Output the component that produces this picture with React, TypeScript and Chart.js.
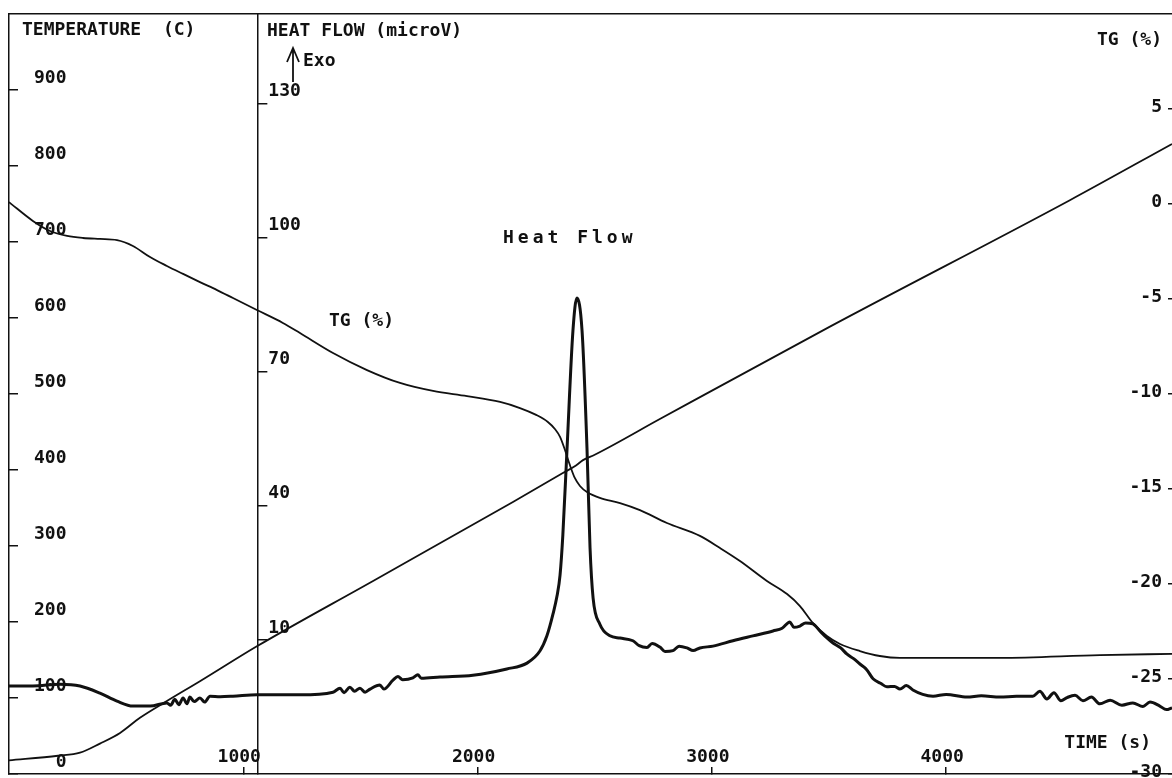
import React, { useEffect, useRef } from 'react';
import { Chart, registerables } from 'chart.js';

Chart.register(...registerables);

// ---- axis ticks ----
const TIME_TICKS = [1000, 2000, 3000, 4000];
const TEMP_TICKS = [0, 100, 200, 300, 400, 500, 600, 700, 800, 900];
const HF_TICKS = [10, 40, 70, 100, 130];
const TG_TICKS = [5, 0, -5, -10, -15, -20, -25, -30];

const TIME_MIN = 0;
const TIME_MAX = 4964;
const TEMP_MIN = 0;
const TEMP_MAX = 1000;
const HF_MIN = -20;
const HF_MAX = 150;
const TG_MIN = -30;
const TG_MAX = 10;
const HF_AXIS_TIME = 1060; // where the heat-flow axis crosses the time axis

// ---- temperature (C) ----
const tempTime = [0, 209, 303, 388, 474, 559, 674, 815, 1058, 1554, 2151, 2364, 2420, 2450, 2500, 2778, 3500, 4528, 4964];
const tempValues = [18, 24, 28, 40, 54, 74, 96, 122, 168, 254, 358, 396, 406, 413, 420, 467, 588, 755, 829];

// ---- TG (%) ----
const tgTime = [
  0, 102, 175, 248, 316, 388, 461, 529, 602, 674,
  743, 815, 888, 956, 1058, 1169, 1242, 1383, 1528, 1669,
  1810, 1955, 2096, 2181, 2250, 2300, 2330, 2352, 2373, 2394,
  2415, 2437, 2467, 2522, 2608, 2693, 2808, 2949, 3035, 3120,
  3235, 3321, 3376, 3431, 3491, 3547, 3632, 3717, 3803, 4230,
  4656, 4964,
];
const tgValues = [
  0.1, -0.89, -1.42, -1.68, -1.79, -1.84, -1.9, -2.21, -2.79, -3.26,
  -3.68, -4.11, -4.53, -4.95, -5.58, -6.26, -6.79, -7.84, -8.74, -9.42,
  -9.84, -10.11, -10.42, -10.74, -11.1, -11.47, -11.84, -12.26, -12.95, -13.74,
  -14.42, -14.84, -15.16, -15.47, -15.74, -16.11, -16.79, -17.47, -18.11, -18.79,
  -19.84, -20.53, -21.16, -22.05, -22.74, -23.16, -23.53, -23.79, -23.89, -23.89,
  -23.74, -23.68,
];

// ---- heat flow (microV) ----
const hfTime = [
  0, 102, 218, 303, 388, 461, 529, 602, 674, 690,
  708, 725, 743, 760, 772, 790, 815, 835, 858, 901,
  956, 1058, 1242, 1383, 1413, 1430, 1455, 1475, 1498, 1520,
  1541, 1583, 1600, 1639, 1660, 1680, 1724, 1745, 1760, 1840,
  1980, 2125, 2211, 2266, 2296, 2322, 2339, 2352, 2364, 2382,
  2407, 2424, 2446, 2467, 2480, 2493, 2522, 2565, 2608, 2663,
  2690, 2723, 2745, 2778, 2800, 2834, 2860, 2894, 2920, 2949,
  3005, 3090, 3175, 3261, 3300, 3333, 3350, 3376, 3400, 3431,
  3461, 3490, 3517, 3550, 3577, 3605, 3632, 3660, 3688, 3720,
  3747, 3780, 3803, 3830, 3858, 3900, 3944, 4000, 4089, 4150,
  4230, 4300, 4370, 4400, 4430, 4460, 4490, 4516, 4550, 4584,
  4620, 4656, 4700, 4750, 4797, 4840, 4870, 4912, 4940, 4964,
];
const hfValues = [
  -0.3, -0.3, 0.1, -0.3, -1.9, -3.7, -4.8, -4.8, -4.1, -4.6,
  -3.3, -4.5, -3.0, -4.3, -2.8, -3.8, -3.0, -3.9, -2.6, -2.7,
  -2.6, -2.3, -2.3, -1.7, -0.8, -1.8, -0.6, -1.5, -0.8, -1.7,
  -1.0, -0.1, -1.0, 1.0, 1.8, 1.1, 1.5, 2.2, 1.4, 1.7,
  2.1, 3.5, 4.8, 7.5, 10.9, 15.8, 19.8, 24.5, 33.5, 52.9,
  79.1, 86.5, 79.1, 52.9, 30.6, 19.4, 13.5, 10.9, 10.4, 9.8,
  8.7, 8.3, 9.2, 8.4, 7.4, 7.6, 8.6, 8.2, 7.6, 8.2,
  8.6, 9.8, 10.9, 12.0, 12.6, 14.0, 12.8, 13.1, 13.8, 13.6,
  12.0, 10.5, 9.3, 8.2, 6.8, 5.8, 4.6, 3.4, 1.3, 0.3,
  -0.5, -0.4, -1.0, -0.2, -1.2, -2.2, -2.6, -2.2, -2.8, -2.5,
  -2.8, -2.6, -2.6, -1.5, -3.2, -1.8, -3.6, -2.9, -2.4, -3.6,
  -2.8, -4.3, -3.5, -4.6, -4.1, -4.9, -3.9, -4.8, -5.6, -5.2,
];

const FONT = 'DejaVu Sans Mono';
const INK = '#111111';

function pts(xs: number[], ys: number[]) {
  return xs.map((x, i) => ({ x, y: ys[i] }));
}

function zeroFit(scale: any) {
  scale.paddingTop = 0;
  scale.paddingBottom = 0;
  scale.paddingLeft = 0;
  scale.paddingRight = 0;
  if (scale.isHorizontal()) scale.height = 0;
  else scale.width = 0;
}

function setTicks(values: number[]) {
  return (scale: any) => {
    scale.ticks = values.map((v) => ({ value: v }));
  };
}

const tickFont = { family: FONT, size: 18, weight: 'bold' };

const annotationPlugin = {
  id: 'annotations',
  afterLayout(chart: any) {
    const s = chart.scales.yHF;
    const px = chart.scales.x.getPixelForValue(HF_AXIS_TIME);
    s.left = px;
    s.right = px;
  },
  afterDraw(chart: any) {
    const ctx = chart.ctx as CanvasRenderingContext2D;
    ctx.save();
    ctx.fillStyle = INK;
    ctx.strokeStyle = INK;
    ctx.font = `bold 18px "${FONT}"`;
    ctx.textBaseline = 'middle';
    ctx.textAlign = 'left';
    ctx.fillText('TEMPERATURE  (C)', 22, 30);
    ctx.fillText('HEAT FLOW (microV)', 267, 31);
    ctx.fillText('Exo', 303, 61);
    ctx.fillText('TG (%)', 329, 321);
    // Exo arrow
    ctx.lineWidth = 1.8;
    ctx.beginPath();
    ctx.moveTo(293, 82);
    ctx.lineTo(293, 48);
    ctx.moveTo(287, 62);
    ctx.lineTo(293, 48);
    ctx.lineTo(299, 62);
    ctx.stroke();
    ctx.textAlign = 'right';
    ctx.fillText('TG (%)', 1162, 40);
    ctx.fillText('TIME (s)', 1151, 743);
    ctx.textAlign = 'left';
    (ctx as any).letterSpacing = '4px';
    ctx.fillText('Heat Flow', 503, 238);
    (ctx as any).letterSpacing = '0px';
    ctx.restore();
  },
};

export default function App() {
  const ref = useRef<HTMLCanvasElement | null>(null);

  useEffect(() => {
    document.body.style.margin = '0';
    const canvas = ref.current;
    if (!canvas) return;
    const chart = new Chart(canvas, {
      type: 'line',
      data: {
        datasets: [
          {
            label: 'Temperature',
            data: pts(tempTime, tempValues),
            yAxisID: 'yT',
            borderColor: INK,
            borderWidth: 1.8,
            pointRadius: 0,
            cubicInterpolationMode: 'monotone',
            fill: false,
          },
          {
            label: 'TG',
            data: pts(tgTime, tgValues),
            yAxisID: 'yTG',
            borderColor: INK,
            borderWidth: 1.8,
            pointRadius: 0,
            cubicInterpolationMode: 'monotone',
            fill: false,
          },
          {
            label: 'Heat Flow',
            data: pts(hfTime, hfValues),
            yAxisID: 'yHF',
            borderColor: INK,
            borderWidth: 3,
            pointRadius: 0,
            cubicInterpolationMode: 'monotone',
            fill: false,
          },
        ],
      },
      options: {
        animation: false,
        responsive: false,
        devicePixelRatio: 1,
        events: [],
        layout: { padding: { left: 9, right: 0, top: 14, bottom: 4 } },
        plugins: { legend: { display: false }, tooltip: { enabled: false } },
        scales: {
          x: {
            type: 'linear',
            position: 'bottom',
            min: TIME_MIN,
            max: TIME_MAX,
            afterBuildTicks: setTicks(TIME_TICKS),
            afterFit: zeroFit,
            grid: { drawOnChartArea: false, drawTicks: true, tickLength: -7, color: INK, lineWidth: 1.5 },
            border: { display: true, color: INK, width: 1.5 },
            ticks: {
              mirror: true,
              autoSkip: false,
              maxRotation: 0,
              padding: 6,
              labelOffset: -4,
              color: INK,
              font: tickFont,
              callback: (v: any) => String(v),
            },
          },
          x2: {
            type: 'linear',
            position: 'top',
            min: TIME_MIN,
            max: TIME_MAX,
            afterFit: zeroFit,
            grid: { display: false },
            ticks: { display: false },
            border: { display: true, color: INK, width: 1.5 },
          },
          yT: {
            type: 'linear',
            position: 'left',
            min: TEMP_MIN,
            max: TEMP_MAX,
            afterBuildTicks: setTicks(TEMP_TICKS),
            afterFit: zeroFit,
            grid: { drawOnChartArea: false, drawTicks: true, tickLength: -9, color: INK, lineWidth: 1.5 },
            border: { display: true, color: INK, width: 1.5 },
            ticks: {
              mirror: true,
              crossAlign: 'far',
              padding: 25,
              labelOffset: -12,
              color: INK,
              font: tickFont,
              autoSkip: false,
              callback: (v: any) => String(v),
            },
          },
          yHF: {
            type: 'linear',
            position: 'left',
            min: HF_MIN,
            max: HF_MAX,
            afterBuildTicks: setTicks(HF_TICKS),
            afterFit: zeroFit,
            grid: { drawOnChartArea: false, drawTicks: true, tickLength: -10, color: INK, lineWidth: 1.5 },
            border: { display: true, color: INK, width: 1.5 },
            ticks: {
              mirror: true,
              crossAlign: 'near',
              padding: 11,
              labelOffset: -12,
              color: INK,
              font: tickFont,
              autoSkip: false,
              callback: (v: any) => String(v),
            },
          },
          yTG: {
            type: 'linear',
            position: 'right',
            min: TG_MIN,
            max: TG_MAX,
            afterBuildTicks: setTicks(TG_TICKS),
            afterFit: zeroFit,
            grid: { drawOnChartArea: false, drawTicks: true, tickLength: -4, color: INK, lineWidth: 1.5 },
            border: { display: false },
            ticks: {
              mirror: true,
              padding: -10,
              labelOffset: -2,
              color: INK,
              font: tickFont,
              autoSkip: false,
              callback: (v: any) => String(v),
            },
          },
        },
      } as any,
      plugins: [annotationPlugin],
    });
    return () => chart.destroy();
  }, []);

  return (
    <div style={{ width: 1172, height: 778, background: '#fff' }}>
      <canvas ref={ref} width={1172} height={778} style={{ display: 'block' }} />
    </div>
  );
}
